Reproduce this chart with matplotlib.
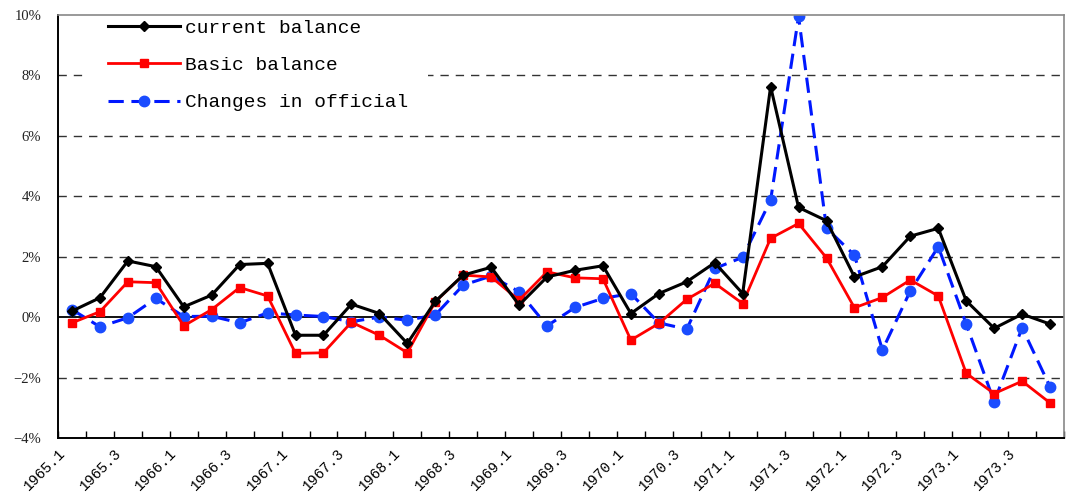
"""Current balance, basic balance and changes in official reserves, 1965-1973 (quarterly)"""
import numpy as np
import matplotlib
matplotlib.use('Agg')
import matplotlib.pyplot as plt
from matplotlib.ticker import FuncFormatter

quarters = [f'{y}.{q}' for y in range(1965, 1974) for q in range(1, 5)]

current_balance = [0.20, 0.64, 1.86, 1.67, 0.34, 0.73, 1.74, 1.78, -0.60, -0.60,
                   0.43, 0.12, -0.87, 0.52, 1.39, 1.65, 0.40, 1.33, 1.55, 1.70,
                   0.12, 0.78, 1.17, 1.80, 0.78, 7.63, 3.63, 3.19, 1.33, 1.67,
                   2.68, 2.94, 0.54, -0.37, 0.10, -0.23]
basic_balance = [-0.19, 0.18, 1.17, 1.14, -0.29, 0.25, 0.98, 0.70, -1.20, -1.18,
                 -0.17, -0.60, -1.18, 0.51, 1.39, 1.33, 0.56, 1.50, 1.30, 1.27,
                 -0.76, -0.21, 0.59, 1.12, 0.45, 2.61, 3.10, 1.96, 0.31, 0.65,
                 1.23, 0.70, -1.86, -2.53, -2.12, -2.84]
official_changes = [0.25, -0.32, -0.02, 0.62, 0.02, 0.03, -0.19, 0.14, 0.07, 0.02,
                    -0.15, 0.00, -0.10, 0.07, 1.06, 1.36, 0.84, -0.29, 0.32, 0.62,
                    0.78, -0.19, -0.40, 1.61, 1.98, 3.87, 9.95, 2.94, 2.05, -1.09,
                    0.87, 2.33, -0.23, -2.80, -0.35, -2.31]

MONO = ['Liberation Mono', 'DejaVu Sans Mono']


def main():
    x = np.arange(len(quarters))
    fig = plt.figure(figsize=(10.68, 4.93), dpi=100)
    ax = fig.add_axes([0.0543, 0.1116, 0.942, 0.858])

    # grid + zero line
    for v in [-2, 2, 4, 6, 8]:
        ax.axhline(v, color='#333333', lw=1.0, ls=(0, (6, 5)), zorder=1)
    ax.axhline(0, color='black', lw=1.3, zorder=1)

    ax.plot(x, current_balance, color='black', lw=2.2, marker='D', ms=5,
            label='current balance', zorder=4)
    ax.plot(x, basic_balance, color='#ff0000', lw=2.0, marker='s', ms=6,
            label='Basic balance', zorder=3)
    ax.plot(x, official_changes, color='#0018ff', lw=2.2, ls=(0, (5, 2.5)),
            marker='o', ms=7.5, mfc='#1a4cff', mec='#1a4cff',
            label='Changes in official', zorder=2)

    ax.set_xlim(-0.5, len(quarters) - 0.5)
    ax.set_ylim(-4, 10)
    ax.set_yticks(range(-4, 11, 2))
    ax.yaxis.set_major_formatter(FuncFormatter(lambda v, p: f'{int(v)}%'.replace('-', '\u2212')))
    ax.tick_params(axis='y', length=0, pad=12, labelsize=10.5, labelcolor='#222222')
    for lab in ax.get_yticklabels():
        lab.set_family(['Liberation Serif', 'DejaVu Serif'])

    # ticks at quarter boundaries, labels every second quarter
    ax.set_xticks(np.arange(len(quarters) + 1) - 0.5, minor=True)
    ax.set_xticks(np.arange(0, len(quarters), 2) - 0.5)
    ax.set_xticklabels(quarters[::2], rotation=45, ha='right', rotation_mode='anchor',
                       family=MONO, fontsize=10.5)
    ax.tick_params(axis='x', which='both', direction='in', length=5, width=1)
    ax.tick_params(axis='x', which='major', pad=6)

    for side in ['left', 'bottom']:
        ax.spines[side].set_color('black')
        ax.spines[side].set_linewidth(1.4)
    for side in ['top', 'right']:
        ax.spines[side].set_color('#888888')
        ax.spines[side].set_linewidth(1.2)
    for sp in ax.spines.values():
        sp.set_zorder(6)

    leg = ax.legend(loc='upper left', bbox_to_anchor=(0.021, 1.058), frameon=True,
                    prop={'family': MONO, 'size': 14}, handlelength=3.7,
                    labelspacing=1.0, borderpad=1.0, handletextpad=0.25)
    leg.get_frame().set_facecolor('white')
    leg.get_frame().set_edgecolor('none')
    leg.get_frame().set_alpha(1)
    leg.set_zorder(5)

    plt.savefig('out.png', dpi=100)
    plt.close()


if __name__ == '__main__':
    main()
